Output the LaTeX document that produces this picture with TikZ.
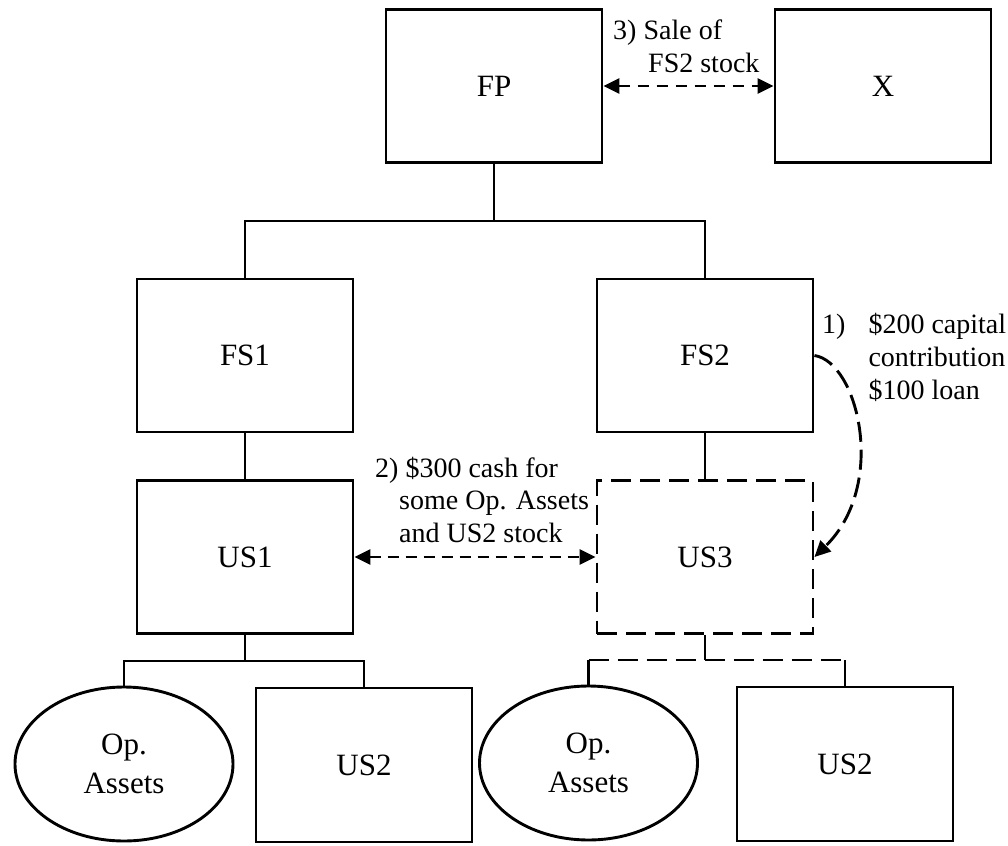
\documentclass[tikz,border=0pt]{standalone}
\usepackage{fontspec}
\setmainfont{Liberation Serif}
\usetikzlibrary{arrows.meta,shapes.geometric}
\begin{document}
\begin{tikzpicture}[x=1pt,y=-1pt,
  box/.style={draw,line width=2.9pt,rectangle,minimum width=216pt,minimum height=153pt,inner sep=0pt,font=\fontsize{31}{38}\selectfont},
  dbox/.style={box,dash pattern=on 20pt off 9pt},
  oval/.style={draw,line width=2.9pt,ellipse,minimum width=218pt,minimum height=154pt,inner sep=0pt,align=center,font=\fontsize{31}{39}\selectfont},
  conn/.style={line width=2.9pt},
  tip/.style={-{Triangle[length=16pt,width=15pt]}},
  lab/.style={inner sep=0pt,anchor=base west,font=\fontsize{28}{33}\selectfont}
]
\useasboundingbox (0,0) rectangle (1008,845);

\node[box] (FP) at (494,86) {FP};
\node[box] (X) at (883,86) {X};
\node[box] (FS1) at (245,355.5) {FS1};
\node[box] (FS2) at (705,355.5) {FS2};
\node[box] (US1) at (245,557) {US1};
\node[dbox] (US3) at (705,557) {US3};
\node[oval] (E1) at (124,764) {Op.\\Assets};
\node[box,minimum height=154pt] (B1) at (364,765) {US2};
\node[oval] (E2) at (588.5,763) {Op.\\Assets};
\node[box,minimum height=154pt] (B2) at (845,764) {US2};

% tree
\coordinate (j0) at (494,221);
\draw[conn] (FP.south) -- (j0);
\draw[conn] (FS1.north) |- (j0) -| (FS2.north);
\draw[conn] (FS1.south) -- (US1.north);
\draw[conn] (FS2.south) -- (US3.north);

\coordinate (j1) at (245,661);
\draw[conn] (US1.south) -- (j1);
\draw[conn] (E1.north) |- (j1) -| (B1.north);

\coordinate (j2) at (705,660);
\coordinate (j2l) at (588.5,660);
\coordinate (j2r) at (845,660);
\draw[conn] (US3.south) -- (j2);
\draw[conn,dash pattern=on 20pt off 9pt] (j2l) -- (j2r);
\draw[conn] (E2.north) -- (j2l);
\draw[conn] (B2.north) -- (j2r);

% transactions
\draw[conn,dash pattern=on 11pt off 8pt,{Triangle[length=16pt,width=15pt]}-{Triangle[length=16pt,width=15pt]}] (FP) -- (X);
\draw[conn,dash pattern=on 11pt off 7pt,{Triangle[length=16pt,width=15pt]}-{Triangle[length=16pt,width=15pt]}] (US1) -- (US3);
\draw[conn,dash pattern=on 20pt off 8pt,tip] (FS2.east) .. controls (858,362) and (888,485) .. (US3.east);

% labels
\node[lab] (L3) at (613,40) {\begin{tabular}[t]{@{}l@{}}3) Sale of\\\hspace{35pt}FS2 stock\end{tabular}};
\node[lab] (L2) at (375,477) {\renewcommand\arraystretch{0.985}\begin{tabular}[t]{@{}l@{}}2) \$300 cash for\\\hspace{24pt}some Op. Assets\\\hspace{24pt}and US2 stock\end{tabular}};
\node[lab] (L1) at (822,333) {\begin{tabular}[t]{@{}l@{\hspace{23pt}}l@{}}1) & \$200 capital\\ & contribution\\ & \$100 loan\end{tabular}};
\end{tikzpicture}
\end{document}
